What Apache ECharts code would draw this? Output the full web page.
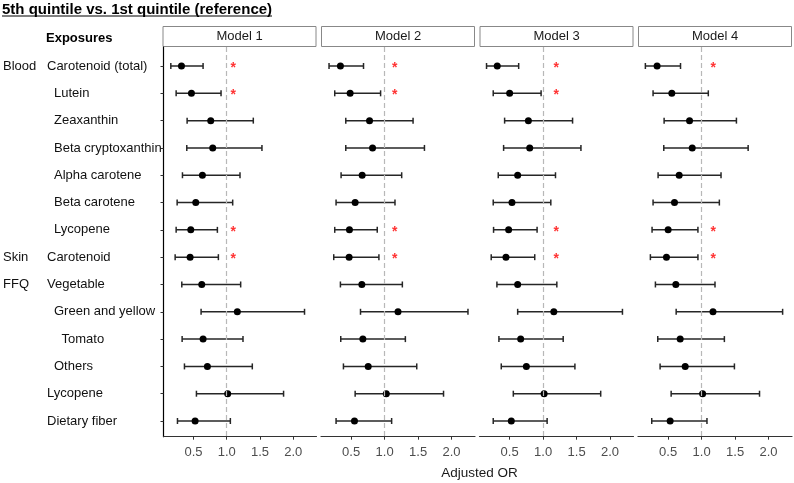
<!DOCTYPE html>
<html>
<head>
<meta charset="utf-8">
<script src="https://cdn.jsdelivr.net/npm/echarts@6/dist/echarts.min.js"></script>
<style>
  html, body { margin: 0; background: #fff; }
  #chart { width: 794px; height: 483px; }
</style>
</head>
<body>
<div id="chart"></div>
<script>
// rows, top to bottom
const exposures = ['Carotenoid (total)', 'Lutein', 'Zeaxanthin', 'Beta cryptoxanthin', 'Alpha carotene',
  'Beta carotene', 'Lycopene', 'Carotenoid', 'Vegetable', 'Green and yellow', 'Tomato', 'Others',
  'Lycopene', 'Dietary fiber'];
const groups = ['Blood', '', '', '', '', '', '', 'Skin', 'FFQ', '', '', '', '', ''];
const indent = [0, 1, 1, 1, 1, 1, 1, 0, 0, 1, 2, 1, 0, 0];
const models = ['Model 1', 'Model 2', 'Model 3', 'Model 4'];
const xTicks = [0.5, 1.0, 1.5, 2.0];

// adjusted OR and 95% CI per model
const or1 = [0.32, 0.47, 0.76, 0.79, 0.635, 0.535, 0.46, 0.45, 0.625, 1.16, 0.645, 0.71, 1.015, 0.525];
const lo1 = [0.16, 0.24, 0.405, 0.40, 0.335, 0.255, 0.24, 0.225, 0.325, 0.615, 0.33, 0.365, 0.545, 0.26];
const hi1 = [0.645, 0.915, 1.40, 1.53, 1.20, 1.09, 0.86, 0.875, 1.21, 2.17, 1.245, 1.385, 1.855, 1.055];

const or2 = [0.34, 0.485, 0.775, 0.82, 0.665, 0.56, 0.475, 0.47, 0.66, 1.20, 0.675, 0.755, 1.025, 0.55];
const lo2 = [0.17, 0.255, 0.42, 0.42, 0.35, 0.275, 0.255, 0.24, 0.34, 0.64, 0.345, 0.385, 0.56, 0.275];
const hi2 = [0.685, 0.94, 1.425, 1.595, 1.255, 1.155, 0.89, 0.915, 1.265, 2.245, 1.31, 1.48, 1.88, 1.105];

const or3 = [0.315, 0.50, 0.78, 0.80, 0.62, 0.535, 0.485, 0.445, 0.62, 1.16, 0.665, 0.75, 1.015, 0.525];
const lo3 = [0.155, 0.255, 0.425, 0.41, 0.33, 0.255, 0.26, 0.225, 0.31, 0.62, 0.34, 0.375, 0.555, 0.255];
const hi3 = [0.635, 0.97, 1.44, 1.565, 1.185, 1.115, 0.91, 0.875, 1.205, 2.185, 1.30, 1.475, 1.86, 1.06];

const or4 = [0.335, 0.555, 0.82, 0.86, 0.665, 0.595, 0.50, 0.475, 0.615, 1.17, 0.68, 0.755, 1.015, 0.53];
const lo4 = [0.16, 0.275, 0.44, 0.435, 0.35, 0.275, 0.26, 0.235, 0.31, 0.62, 0.345, 0.38, 0.545, 0.255];
const hi4 = [0.685, 1.10, 1.52, 1.695, 1.29, 1.265, 0.945, 0.945, 1.20, 2.21, 1.34, 1.49, 1.865, 1.08];

// rows marked with a red asterisk, and where the asterisk sits
const sig1 = [0, 1, 6, 7];
const sig2 = [0, 1, 6, 7];
const sig3 = [0, 1, 6, 7];
const sig4 = [0, 6, 7];
const starX = [1.10, 1.15, 1.195, 1.175];

const ORS = [or1, or2, or3, or4];
const LOS = [lo1, lo2, lo3, lo4];
const HIS = [hi1, hi2, hi3, hi4];
const SIGS = [sig1, sig2, sig3, sig4];

const FONT = "'Liberation Sans', Arial, Helvetica, sans-serif";
const rows = exposures.map((_, i) => i);
const lefts = [162.5, 321, 479.5, 638];
const panelW = 154;
const plotTop = 47, plotH = 389.7;

const chart = echarts.init(document.getElementById('chart'), null, { renderer: 'canvas' });

function renderBar(params, api) {
  const y = api.value(0);
  const a = api.coord([api.value(1), y]);
  const b = api.coord([api.value(2), y]);
  const h = 3;
  const style = { stroke: '#262626', lineWidth: 1.5 };
  return {
    type: 'group',
    children: [
      { type: 'line', shape: { x1: a[0], y1: a[1], x2: b[0], y2: b[1] }, style },
      { type: 'line', shape: { x1: a[0], y1: a[1] - h, x2: a[0], y2: a[1] + h }, style },
      { type: 'line', shape: { x1: b[0], y1: b[1] - h, x2: b[0], y2: b[1] + h }, style }
    ]
  };
}

const grids = [], xAxes = [], yAxes = [], series = [], graphics = [];

models.forEach((m, k) => {
  grids.push({ left: lefts[k], top: plotTop, width: panelW, height: plotH });
  xAxes.push({
    gridIndex: k, type: 'value', min: 0.05, max: 2.35,
    axisLine: { show: true, onZero: false, lineStyle: { color: '#333', width: 1.2 } },
    axisTick: { show: true, customValues: xTicks, length: 3, lineStyle: { color: '#333' } },
    axisLabel: { customValues: xTicks, formatter: v => v.toFixed(1), fontSize: 13, color: '#4d4d4d',
      fontFamily: FONT, margin: 9.5 },
    splitLine: { show: false }
  });
  const y = {
    gridIndex: k, type: 'value', inverse: true, min: -0.696, max: 13.574,
    splitLine: { show: false },
    axisLine: { show: false }, axisTick: { show: false }, axisLabel: { show: false }
  };
  if (k === 0) {
    y.axisLine = { show: true, onZero: false, lineStyle: { color: '#000', width: 1.2 } };
    y.axisTick = { show: true, customValues: rows, length: 3, lineStyle: { color: '#333' } };
    y.axisLabel = {
      show: true, customValues: rows, align: 'left', margin: 160.5,
      fontSize: 13, fontFamily: FONT, color: '#111',
      formatter: v => {
        const i = Math.round(v);
        return '{g|' + (groups[i] || ' ') + '}{e' + indent[i] + '|' + exposures[i] + '}';
      },
      rich: {
        g: { width: 44, fontSize: 13, fontFamily: FONT, color: '#111' },
        e0: { fontSize: 13, fontFamily: FONT, color: '#111' },
        e1: { fontSize: 13, fontFamily: FONT, color: '#111', padding: [0, 0, 0, 7] },
        e2: { fontSize: 13, fontFamily: FONT, color: '#111', padding: [0, 0, 0, 14.5] }
      }
    };
  }
  yAxes.push(y);

  series.push({
    type: 'custom', xAxisIndex: k, yAxisIndex: k, renderItem: renderBar,
    encode: { x: [1, 2], y: 0 }, silent: true,
    data: rows.map(i => [i, LOS[k][i], HIS[k][i]]),
    z: 3
  });
  series.push({
    type: 'scatter', xAxisIndex: k, yAxisIndex: k, symbol: 'circle', symbolSize: 7,
    itemStyle: { color: '#000', opacity: 1 }, silent: true,
    data: rows.map(i => [ORS[k][i], i]), z: 4,
    markLine: {
      silent: true, symbol: 'none', label: { show: false },
      lineStyle: { type: [5, 3], color: '#b8b8b8', width: 1.2 },
      data: [{ xAxis: 1 }]
    }
  });
  series.push({
    type: 'scatter', xAxisIndex: k, yAxisIndex: k, symbolSize: 1,
    itemStyle: { color: 'rgba(0,0,0,0)' }, silent: true,
    label: { show: true, position: 'inside', formatter: '*', color: '#ff0000', fontSize: 14,
      fontWeight: 'bold', fontFamily: FONT, offset: [0, 2] },
    data: SIGS[k].map(i => [starX[k], i]), z: 5
  });

  // facet strip
  graphics.push({
    type: 'rect', shape: { x: lefts[k] + 0.5, y: 26.5, width: panelW - 1, height: 20 },
    style: { fill: '#fff', stroke: '#888', lineWidth: 1 }
  });
  graphics.push({
    type: 'text', x: lefts[k] + panelW / 2, y: 36.8,
    style: { text: m, font: '13px ' + FONT, fill: '#1a1a1a', align: 'center', verticalAlign: 'middle',
      textAlign: 'center', textVerticalAlign: 'middle' }
  });
});

// title with underline
const titleText = '5th quintile vs. 1st quintile (reference)';
const titleFont = 'bold 15px ' + FONT;
const ctx = document.createElement('canvas').getContext('2d');
ctx.font = titleFont;
const titleW = ctx.measureText(titleText).width;
graphics.push({
  type: 'text', x: 2, y: 9.5,
  style: { text: titleText, font: titleFont, fill: '#000', align: 'left', verticalAlign: 'middle',
    textAlign: 'left', textVerticalAlign: 'middle' }
});
graphics.push({
  type: 'line', shape: { x1: 2, y1: 16, x2: 2 + titleW, y2: 16 },
  style: { stroke: '#000', lineWidth: 1.2 }
});
graphics.push({
  type: 'text', x: 46, y: 38.5,
  style: { text: 'Exposures', font: 'bold 13px ' + FONT, fill: '#000', align: 'left', verticalAlign: 'middle',
    textAlign: 'left', textVerticalAlign: 'middle' }
});
graphics.push({
  type: 'text', x: 479.5, y: 473.5,
  style: { text: 'Adjusted OR', font: '13.5px ' + FONT, fill: '#1a1a1a', align: 'center', verticalAlign: 'middle',
    textAlign: 'center', textVerticalAlign: 'middle' }
});

chart.setOption({
  animation: false,
  backgroundColor: '#fff',
  grid: grids,
  xAxis: xAxes,
  yAxis: yAxes,
  series: series,
  graphic: { elements: graphics }
});
</script>
</body>
</html>
